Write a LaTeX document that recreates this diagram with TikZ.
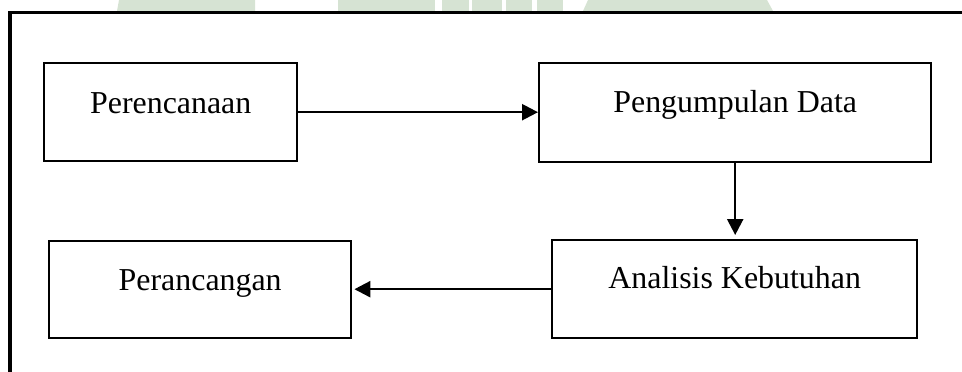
\documentclass[tikz,border=0pt]{standalone}
\usepackage{fontspec}
\setmainfont{Liberation Serif}
\usetikzlibrary{arrows.meta}
\definecolor{wmark}{HTML}{D6E3D3}
\tikzset{
  stepbox/.style={draw, line width=2.4pt, inner sep=0pt, anchor=north west,
    font=\fontsize{31.9pt}{36pt}\selectfont},
  flow/.style={line width=2.4pt, -{Triangle[length=16pt,width=16pt]}},
  frame/.style={line width=3.5pt, line join=miter},
  wmshape/.style={fill=wmark, draw=none}
}
\begin{document}
\begin{tikzpicture}[x=1pt,y=-1pt]
\useasboundingbox (0,0) rectangle (962,372);
% faint watermark shapes at the top
\fill[wmshape] (119,0) -- (255,0) -- (255,11) -- (117,11) -- cycle;
\fill[wmshape] (338,0) rectangle (435,11);
\fill[wmshape] (442,0) rectangle (469,11);
\fill[wmshape] (472,0) rectangle (502,11);
\fill[wmshape] (506,0) rectangle (532,11);
\fill[wmshape] (537,0) rectangle (563,11);
\fill[wmshape] (588,0) -- (767,0) -- (773,11) -- (583,11) -- cycle;
% outer frame
\draw[frame] (962,12.3) -- (10,12.3) -- (10,372);
% boxes
\node[stepbox, minimum width=253pt, text height=50pt, text depth=48pt] (P) at (43,62) {Perencanaan};
\node[stepbox, minimum width=392pt, text height=49pt, text depth=50pt] (D) at (538,62) {Pengumpulan Data};
\node[stepbox, minimum width=365pt, text height=48pt, text depth=50pt] (A) at (551,239) {Analisis Kebutuhan};
\node[stepbox, minimum width=302pt, text height=49pt, text depth=48pt] (R) at (48,240) {Perancangan};
% connectors
\draw[flow] (P.east) -- (P.east -| D.west);
\draw[flow, shorten >=4pt] (D.south) -- (D.south |- A.north);
\draw[flow, shorten >=2pt] (A.west) -- (A.west -| R.east);
\end{tikzpicture}
\end{document}
